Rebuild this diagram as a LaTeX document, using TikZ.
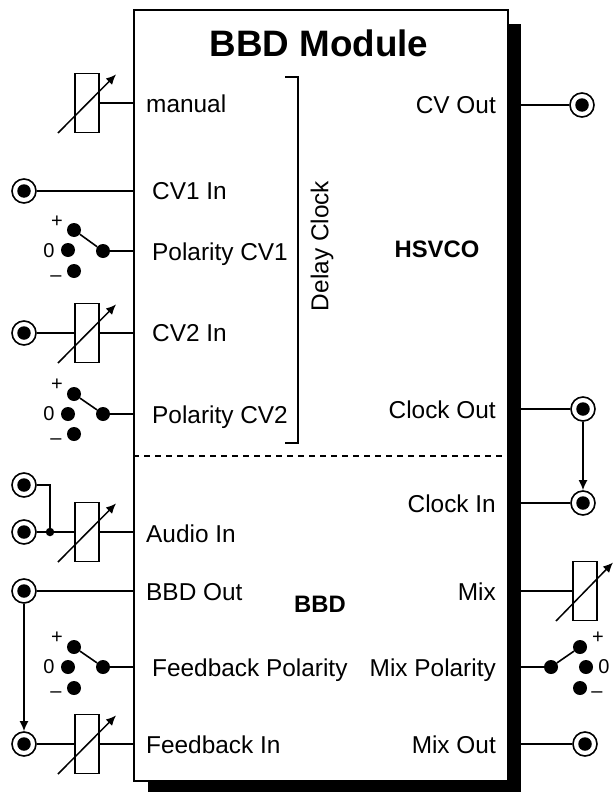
\documentclass[tikz,border=0pt]{standalone}
\usepackage{fontspec}
\setmainfont{Liberation Sans}
\usetikzlibrary{arrows.meta,positioning,calc}
\tikzset{
  module box/.style={draw=black, fill=white, line width=1.8pt, minimum width=374pt, minimum height=771pt, inner sep=0pt},
  module shadow/.style={fill=black, inner sep=0pt, minimum width=373pt, minimum height=768pt},
  module title/.style={font=\bfseries\fontsize{36.8}{42}\selectfont},
  port label/.style={font=\fontsize{24.4}{28}\selectfont, inner sep=0pt},
  section label/.style={font=\bfseries\fontsize{23.8}{28}\selectfont, inner sep=0pt},
  wire/.style={draw=black, line width=1.6pt},
  link/.style={wire, -{Latex[length=10pt,width=9pt]}},
  bracket line/.style={draw=black, line width=1.5pt},
  section line/.style={draw=black, line width=1.5pt, dash pattern=on 6pt off 5pt},
  jack/.style={circle, draw=black, fill=white, line width=1.6pt, minimum size=24pt, inner sep=0pt},
  jack dot/.style={circle, fill=black, minimum size=13.5pt, inner sep=0pt},
  pot/.style={draw=black, fill=white, line width=1.6pt, minimum width=24pt, minimum height=59pt, inner sep=0pt},
  pot arrow/.style={draw=black, line width=1.5pt, -{Latex[length=10pt,width=9pt]}},
  switch dot/.style={circle, fill=black, minimum size=14pt, inner sep=0pt},
  junction/.style={circle, fill=black, minimum size=8.5pt, inner sep=0pt},
  switch mark/.style={font=\fontsize{20}{22}\selectfont, inner sep=0pt},
}
\begin{document}
\begin{tikzpicture}[x=1pt,y=-1pt]
  \useasboundingbox (0,0) rectangle (613,792);
  \node[module shadow] (shadow) at (334.5,408) {};
  \node[module box] (box) at (321,395.5) {};
  \node[module title] (title) at (319,43) {BBD Module};

  % Split between the clock section and the delay section.
  \coordinate (split) at (321,456);
  \draw[section line] (split -| box.west) -- (split -| box.east);
  \node[section label] (hsvco) at (437,249) {HSVCO};
  \node[section label] (bbd) at (320,604) {BBD};

  % Delay clock bracket.
  \coordinate (bracket top) at (298,77);
  \coordinate (bracket low) at (298,443);
  \draw[bracket line] ($(bracket top)+(-13,0)$) -- (bracket top) -- (bracket low) -- ($(bracket low)+(-13,0)$);
  \node[port label, rotate=90] (delay) at (322,246) {Delay Clock};

  % Left side, upper section.
  \node[pot] (pot manual) at (87,103) {};
  \draw[pot arrow] ($(pot manual)+(-29,30)$) -- ($(pot manual)+(29,-28.5)$);
  \draw[wire] (pot manual.east) -- (pot manual.east -| box.west);
  \node[port label, anchor=base west] (manual) at (146,112) {manual};

  \node[jack] (jack cv1) at (24,191) {};
  \node[jack dot] at (jack cv1) {};
  \draw[wire] (jack cv1.east) -- (jack cv1.east -| box.west);
  \node[port label, anchor=base west] (cv1 in) at (152,199) {CV1 In};

  \node[switch dot] (pol1 plus) at (74,230) {};
  \node[switch dot] (pol1 zero) at (68,250) {};
  \node[switch dot] (pol1 minus) at (74,271) {};
  \node[switch dot] (pol1 common) at (103,251) {};
  \draw[wire] (pol1 plus) -- (pol1 common);
  \draw[wire] (pol1 common) -- (pol1 common -| box.west);
  \node[switch mark] (pol1 mark plus) at (57,222) {+};
  \node[switch mark] (pol1 mark zero) at (49,251) {0};
  \node[switch mark] (pol1 mark minus) at (56,279) {–};
  \node[port label, anchor=base west] (pol1) at (152,260) {Polarity CV1};

  \node[jack] (jack cv2) at (24,333) {};
  \node[jack dot] at (jack cv2) {};
  \node[pot] (pot cv2) at (87,333) {};
  \draw[wire] (jack cv2.east) -- (pot cv2.west);
  \draw[pot arrow] ($(pot cv2)+(-29,30)$) -- ($(pot cv2)+(29,-28.5)$);
  \draw[wire] (pot cv2.east) -- (pot cv2.east -| box.west);
  \node[port label, anchor=base west] (cv2 in) at (152,341) {CV2 In};

  \node[switch dot] (pol2 plus) at (74,394) {};
  \node[switch dot] (pol2 zero) at (68,414) {};
  \node[switch dot] (pol2 minus) at (74,434) {};
  \node[switch dot] (pol2 common) at (103,414) {};
  \draw[wire] (pol2 plus) -- (pol2 common);
  \draw[wire] (pol2 common) -- (pol2 common -| box.west);
  \node[switch mark] (pol2 mark plus) at (57,385) {+};
  \node[switch mark] (pol2 mark zero) at (49,414) {0};
  \node[switch mark] (pol2 mark minus) at (56,442) {–};
  \node[port label, anchor=base west] (pol2) at (152,423) {Polarity CV2};

  % Left side, lower section.
  \node[jack] (jack audio a) at (24,485) {};
  \node[jack dot] at (jack audio a) {};
  \node[jack] (jack audio b) at (24,532) {};
  \node[jack dot] at (jack audio b) {};
  \node[pot] (pot audio) at (87,532) {};
  \node[junction] (audio joint) at (50,532) {};
  \draw[wire] (jack audio a.east) -| (audio joint);
  \draw[wire] (jack audio b.east) -- (pot audio.west);
  \draw[pot arrow] ($(pot audio)+(-29,30)$) -- ($(pot audio)+(29,-28.5)$);
  \draw[wire] (pot audio.east) -- (pot audio.east -| box.west);
  \node[port label, anchor=base west] (audio in) at (146,542) {Audio In};

  \node[jack] (jack bbd) at (24,591) {};
  \node[jack dot] at (jack bbd) {};
  \draw[wire] (jack bbd.east) -- (jack bbd.east -| box.west);
  \node[port label, anchor=base west] (bbd out) at (146,600) {BBD Out};

  \node[switch dot] (fb plus) at (74,647) {};
  \node[switch dot] (fb zero) at (68,667) {};
  \node[switch dot] (fb minus) at (74,688) {};
  \node[switch dot] (fb common) at (103,667) {};
  \draw[wire] (fb plus) -- (fb common);
  \draw[wire] (fb common) -- (fb common -| box.west);
  \node[switch mark] (fb mark plus) at (57,638) {+};
  \node[switch mark] (fb mark zero) at (49,667) {0};
  \node[switch mark] (fb mark minus) at (56,695) {–};
  \node[port label, anchor=base west] (fb pol) at (152,676) {Feedback Polarity};

  \node[jack] (jack fb) at (24,744) {};
  \node[jack dot] at (jack fb) {};
  \node[pot] (pot fb) at (87,744) {};
  \draw[wire] (jack fb.east) -- (pot fb.west);
  \draw[pot arrow] ($(pot fb)+(-29,30)$) -- ($(pot fb)+(29,-28.5)$);
  \draw[wire] (pot fb.east) -- (pot fb.east -| box.west);
  \draw[link] (jack bbd.south) -- (jack fb.north);
  \node[port label, anchor=base west] (fb in) at (146,753) {Feedback In};

  % Right side.
  \node[jack] (jack cvout) at (582,105) {};
  \node[jack dot] at (jack cvout) {};
  \draw[wire] (jack cvout.west) -- (jack cvout.west -| box.east);
  \node[port label, anchor=base east] (cv out) at (496,113) {CV Out};

  \node[jack] (jack clkout) at (583,409) {};
  \node[jack dot] at (jack clkout) {};
  \draw[wire] (jack clkout.west) -- (jack clkout.west -| box.east);
  \node[port label, anchor=base east] (clock out) at (496,418) {Clock Out};

  \node[jack] (jack clkin) at (583,503) {};
  \node[jack dot] at (jack clkin) {};
  \draw[wire] (jack clkin.west) -- (jack clkin.west -| box.east);
  \draw[link] (jack clkout.south) -- (jack clkin.north);
  \node[port label, anchor=base east] (clock in) at (496,512) {Clock In};

  \node[pot] (pot mix) at (585,591) {};
  \draw[pot arrow] ($(pot mix)+(-29,30)$) -- ($(pot mix)+(28,-28.5)$);
  \draw[wire] (pot mix.west) -- (pot mix.west -| box.east);
  \node[port label, anchor=base east] (mix) at (496,600) {Mix};

  \node[switch dot] (mix plus) at (580,647) {};
  \node[switch dot] (mix zero) at (586,667) {};
  \node[switch dot] (mix minus) at (580,688) {};
  \node[switch dot] (mix common) at (551,667) {};
  \draw[wire] (mix plus) -- (mix common);
  \draw[wire] (mix common) -- (mix common -| box.east);
  \node[switch mark] (mix mark plus) at (598,638) {+};
  \node[switch mark] (mix mark zero) at (604,667) {0};
  \node[switch mark] (mix mark minus) at (597,695) {–};
  \node[port label, anchor=base east] (mix pol) at (496,676) {Mix Polarity};

  \node[jack] (jack mixout) at (585,744) {};
  \node[jack dot] at (jack mixout) {};
  \draw[wire] (jack mixout.west) -- (jack mixout.west -| box.east);
  \node[port label, anchor=base east] (mix out) at (496,753) {Mix Out};
\end{tikzpicture}
\end{document}
